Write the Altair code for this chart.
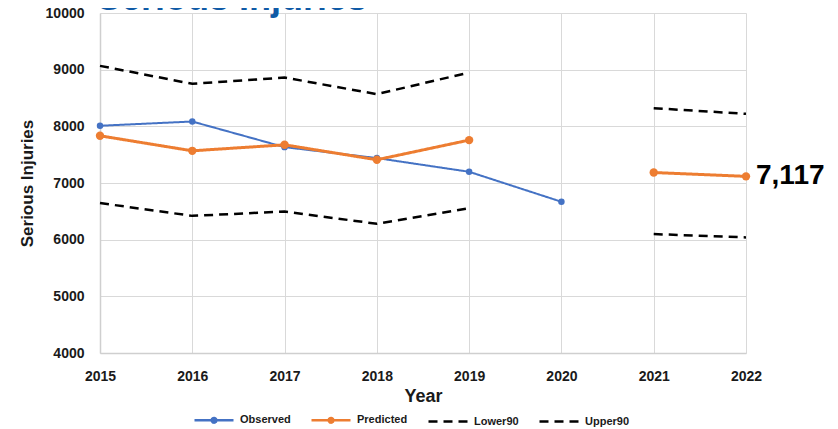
import altair as alt
import pandas as pd

years = [2015, 2016, 2017, 2018, 2019, 2020, 2021, 2022]
observed = [8010, 8085, 7633, 7440, 7198, 6669, None, None]
predicted = [7833, 7568, 7674, 7410, 7757, None, 7185, 7117]
lower90 = [6646, 6420, 6497, 6280, 6557, None, 6099, 6040]
upper90 = [9067, 8750, 8861, 8568, 8949, None, 8321, 8220]

series_names = ["Observed", "Predicted", "Lower90", "Upper90"]
series_colors = ["#4472C4", "#ED7D31", "#000000", "#000000"]
series_dash = [[1, 0], [1, 0], [9, 6], [9, 6]]
y_ticks = [4000, 5000, 6000, 7000, 8000, 9000, 10000]
chart_title = ["Serious Injuries"]

rows = []
for name, vals in zip(series_names, [observed, predicted, lower90, upper90]):
    for yr, v in zip(years, vals):
        rows.append({"Year": yr, "series": name, "value": v})
df = pd.DataFrame(rows)

FONT = "Liberation Sans"
TXT = "#1a1a1a"
DOT_PATH = ("M-1,0L1,0"
            "M0.12,0A0.12,0.12,0,1,1,-0.12,0A0.12,0.12,0,1,1,0.12,0"
            "M0.04,0A0.04,0.04,0,1,1,-0.04,0A0.04,0.04,0,1,1,0.04,0")

legend = alt.Legend(
    title=None, orient="none", legendX=93, legendY=386, direction="horizontal",
    symbolType=alt.ExprRef(
        expr=f"(datum.value === 'Observed' || datum.value === 'Predicted') ? '{DOT_PATH}' : 'stroke'"
    ),
    symbolStrokeWidth=2.5,
    symbolSize=1521, labelFont=FONT, labelFontSize=11,
    labelFontWeight="bold", labelColor=TXT, labelOffset=5, columnPadding=15,
    padding=0,
)

color_enc = alt.Color("series:N", scale=alt.Scale(domain=series_names, range=series_colors), legend=legend)
dash_enc = alt.StrokeDash("series:N", scale=alt.Scale(domain=series_names, range=series_dash), legend=legend)

x_enc = alt.X(
    "Year:Q",
    scale=alt.Scale(domain=[years[0], years[-1]], nice=False, zero=False),
    axis=alt.Axis(values=years, format="d", title="Year", labelPadding=16, labelFlush=False,
                  titleFontSize=18, titleBaseline="alphabetic", titleY=48),
)
y_enc = alt.Y(
    "value:Q",
    scale=alt.Scale(domain=[y_ticks[0], y_ticks[-1]], nice=False, zero=False),
    axis=alt.Axis(values=y_ticks, format="d", title="Serious Injuries", labelPadding=16,
                  labelFlush=False,
                  titleFontSize=17, titleX=-68, titleY=170, titleBaseline="alphabetic"),
)

base = alt.Chart(df).encode(x=x_enc, y=y_enc)

def line(name, width):
    return base.transform_filter(alt.datum.series == name).mark_line(
        strokeWidth=width, invalid="break-paths-filter-domains"
    ).encode(color=color_enc, strokeDash=dash_enc)

def pts(name, size, color):
    return base.transform_filter(alt.datum.series == name).mark_circle(
        size=size, color=color, opacity=1
    )

label = base.transform_filter(
    (alt.datum.series == "Predicted") & (alt.datum.Year == years[-1])
).mark_text(
    align="left", baseline="middle", dx=10, fontSize=28, fontWeight="bold", font=FONT, color="#000000"
).encode(text=alt.Text("value:Q", format=","))

title_mark = alt.Chart(pd.DataFrame({"t": chart_title})).mark_text(
    align="left", baseline="alphabetic", fontSize=36, fontWeight="bold", font=FONT, color="#0F5AA6"
).encode(x=alt.value(-3), y=alt.value(-3), text="t:N")

chart = alt.layer(
    title_mark,
    line("Observed", 2), pts("Observed", 42, series_colors[0]),
    line("Predicted", 3), pts("Predicted", 70, series_colors[1]),
    line("Lower90", 2.5), line("Upper90", 2.5),
    label,
).properties(
    width=646, height=340,
    padding={"left": 92, "top": 5, "right": 84, "bottom": 80},
    autosize=alt.AutoSizeParams(type="none"),
).configure_view(stroke=None).configure_axis(
    grid=True, gridColor="#d9d9d9", gridWidth=1, domainColor="#cfcfcf", domainWidth=1.5,
    ticks=False, labelFont=FONT, labelFontSize=14, labelFontWeight="bold", labelColor=TXT,
    titleFont=FONT, titleFontWeight="bold", titleColor=TXT,
)

chart.save("out.html", embed_options={"renderer": "svg", "actions": False})
